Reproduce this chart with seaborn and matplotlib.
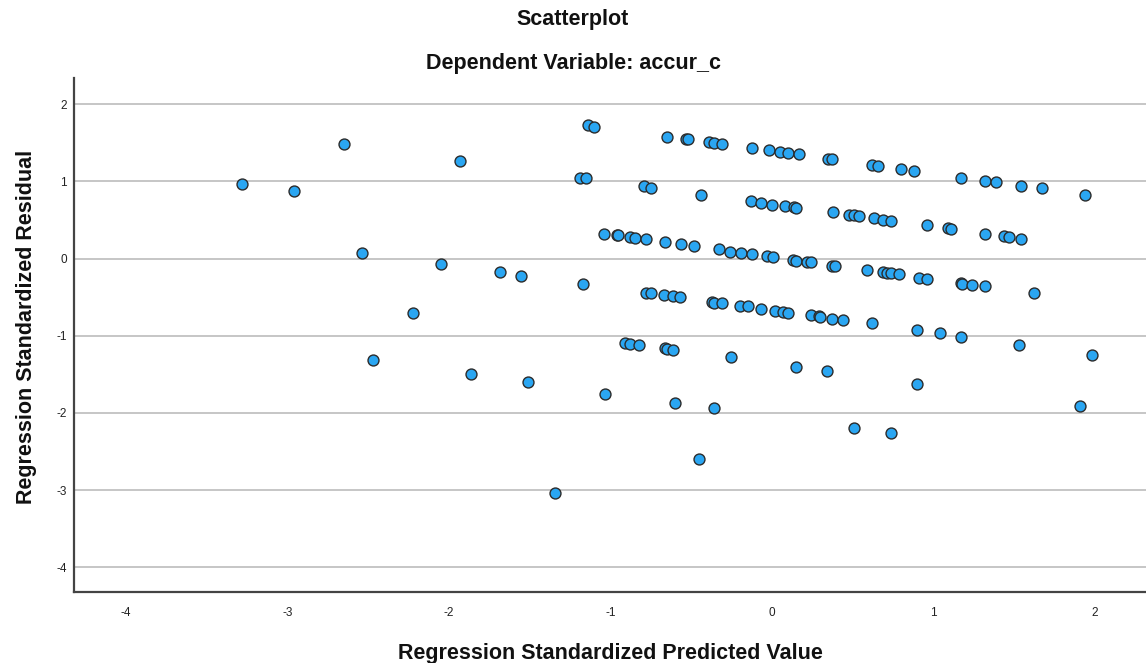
import matplotlib
matplotlib.use("Agg")
import matplotlib.pyplot as plt
import seaborn as sns
import pandas as pd

# Regression standardized predicted values (x) and residuals (y)
pred = [-3.28, -2.96, -2.65, -2.54, -2.47, -2.22, -2.05, -1.93, -1.86, -1.68,
        -1.55, -1.51, -1.34, -1.19, -1.15, -1.17, -1.14, -1.10, -1.04, -1.03,
        -0.96, -0.95, -0.91, -0.88, -0.88, -0.85, -0.82, -0.79, -0.78, -0.78,
        -0.75, -0.75, -0.67, -0.66, -0.66, -0.65, -0.65, -0.61, -0.61, -0.60,
        -0.57, -0.56, -0.53, -0.52, -0.48, -0.45, -0.44, -0.39, -0.37, -0.36,
        -0.36, -0.36, -0.33, -0.31, -0.31, -0.26, -0.25, -0.20, -0.19, -0.15,
        -0.13, -0.12, -0.12, -0.07, -0.07, -0.03, -0.02, 0.00, 0.01, 0.02,
        0.05, 0.07, 0.08, 0.10, 0.10, 0.13, 0.15, 0.14, 0.15, 0.15,
        0.17, 0.22, 0.24, 0.24, 0.29, 0.30, 0.34, 0.35, 0.37, 0.37,
        0.37, 0.38, 0.39, 0.44, 0.48, 0.51, 0.51, 0.54, 0.59, 0.62,
        0.62, 0.63, 0.66, 0.69, 0.69, 0.71, 0.74, 0.74, 0.74, 0.79,
        0.80, 0.88, 0.90, 0.90, 0.91, 0.96, 0.96, 1.04, 1.09, 1.11,
        1.17, 1.17, 1.17, 1.18, 1.24, 1.32, 1.32, 1.32, 1.39, 1.44,
        1.47, 1.54, 1.54, 1.53, 1.62, 1.67, 1.91, 1.94, 1.98]
resid = [0.97, 0.88, 1.48, 0.07, -1.32, -0.71, -0.07, 1.27, -1.50, -0.18,
         -0.22, -1.60, -3.03, 1.05, 1.04, -0.33, 1.73, 1.71, 0.32, -1.75,
         0.30, 0.30, -1.09, -1.10, 0.28, 0.27, -1.12, 0.94, 0.25, -0.44,
         0.92, -0.45, -0.47, 0.21, -1.16, 1.58, -1.17, -0.49, -1.18, -1.87,
         -0.50, 0.19, 1.55, 1.55, 0.16, -2.60, 0.83, 1.51, -0.56, 1.50,
         -0.57, -1.94, 0.12, 1.48, -0.58, 0.09, -1.28, -0.61, 0.07, -0.62,
         0.75, 1.43, 0.06, 0.72, -0.65, 0.03, 1.40, 0.70, 0.02, -0.68,
         1.38, -0.69, 0.68, 1.37, -0.70, -0.02, -0.03, 0.67, 0.66, -1.40,
         1.35, -0.04, -0.05, -0.73, -0.75, -0.76, -1.45, 1.29, 1.29, -0.09,
         -0.78, 0.60, -0.10, -0.80, 0.57, 0.56, -2.19, 0.55, -0.15, -0.84,
         1.21, 0.52, 1.20, -0.18, 0.50, -0.19, 0.49, -0.19, -2.26, -0.20,
         1.16, 1.14, -0.93, -1.62, -0.25, 0.43, -0.26, -0.97, 0.39, 0.38,
         1.05, -0.32, -1.01, -0.33, -0.34, 1.01, 0.32, -0.36, 0.99, 0.29,
         0.28, 0.94, 0.26, -1.12, -0.45, 0.91, -1.91, 0.83, -1.25]

x_ticks = [-4, -3, -2, -1, 0, 1, 2]
y_ticks = [-4, -3, -2, -1, 0, 1, 2]
title = "Scatterplot"
subtitle = "Dependent Variable: accur_c"
x_label = "Regression Standardized Predicted Value"
y_label = "Regression Standardized Residual"

df = pd.DataFrame({"pred": pred, "resid": resid})

sns.set_style("white")
plt.rcParams["font.family"] = ["Liberation Sans", "DejaVu Sans"]
plt.rcParams["axes.unicode_minus"] = False

fig = plt.figure(figsize=(11.46, 6.63), dpi=100)
ax = fig.add_axes([0.0646, 0.1075, 0.9354, 0.7745])

ax.set_axisbelow(True)
ax.yaxis.grid(True, color="#bcbcbc", linewidth=1.2)
ax.xaxis.grid(False)

sns.scatterplot(data=df, x="pred", y="resid", ax=ax, s=62,
                color="#2aa6f2", edgecolor="#2b2b2b", linewidth=1.0,
                zorder=3)

ax.set_xlim(-4.32, 2.316)
ax.set_ylim(-4.315, 2.336)
ax.set_xticks(x_ticks)
ax.set_yticks(y_ticks)
ax.set_xticklabels([str(v) for v in x_ticks])
ax.set_yticklabels([str(v) for v in y_ticks])
ax.tick_params(axis="both", length=0, labelsize=8.5, colors="#222222")
ax.tick_params(axis="x", pad=11)
ax.tick_params(axis="y", pad=5)

for side in ["top", "right"]:
    ax.spines[side].set_visible(False)
for side in ["left", "bottom"]:
    ax.spines[side].set_color("#444444")
    ax.spines[side].set_linewidth(1.6)

ax.set_xlabel(x_label, fontsize=15.5, fontweight="bold", labelpad=17,
              color="#111111")
ax.set_ylabel(y_label, fontsize=15.5, fontweight="bold", labelpad=14,
              color="#111111")
ax.yaxis.label.set_y(0.516)

fig.text(0.5, 1 - 20 / 663, title, ha="center", va="center",
         fontsize=15.5, fontweight="bold", color="#111111")
fig.text(0.5, 1 - 63 / 663, subtitle, ha="center", va="center",
         fontsize=15.5, fontweight="bold", color="#111111")

fig.savefig("out.png", dpi=100)
